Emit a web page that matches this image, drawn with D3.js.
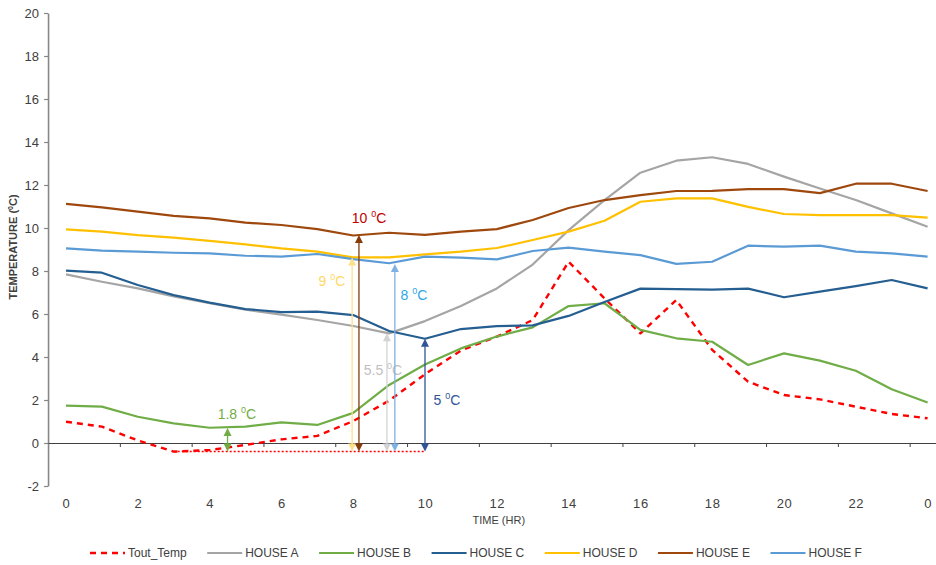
<!DOCTYPE html>
<html>
<head>
<meta charset="utf-8">
<script src="https://cdn.jsdelivr.net/npm/d3@7"></script>
<style>
  body { margin: 0; background: #fff; }
  svg { display: block; font-family: "Liberation Sans", Arial, sans-serif; }
</style>
</head>
<body>
<svg id="chart" width="936" height="565"></svg>
<script>
// ---- data -------------------------------------------------------------
const hours = [0, 1, 2, 3, 4, 5, 6, 7, 8, 9, 10, 11, 12, 13, 14, 15, 16, 17, 18, 19, 20, 21, 22, 23, 24];
const hourTicks = [0, 2, 4, 6, 8, 10, 12, 14, 16, 18, 20, 22, 24];
const tempTicks = [-2, 0, 2, 4, 6, 8, 10, 12, 14, 16, 18, 20];

const seriesNames = ["Tout_Temp", "HOUSE A", "HOUSE B", "HOUSE C", "HOUSE D", "HOUSE E", "HOUSE F"];
const toutTemp = [0.99, 0.76, 0.12, -0.40, -0.33, -0.09, 0.17, 0.33, 1.02, 1.97, 3.20, 4.30, 4.95, 5.72, 8.43, 6.73, 5.10, 6.65, 4.33, 2.85, 2.23, 2.03, 1.69, 1.35, 1.15];
const houseA = [7.84, 7.50, 7.19, 6.82, 6.50, 6.20, 5.97, 5.72, 5.44, 5.10, 5.67, 6.37, 7.19, 8.30, 9.90, 11.30, 12.57, 13.13, 13.29, 12.98, 12.39, 11.84, 11.30, 10.68, 10.06];
const houseB = [1.74, 1.69, 1.22, 0.91, 0.71, 0.76, 0.96, 0.84, 1.40, 2.70, 3.65, 4.40, 4.95, 5.38, 6.37, 6.50, 5.26, 4.87, 4.71, 3.63, 4.17, 3.83, 3.36, 2.50, 1.88];
const houseC = [8.02, 7.92, 7.35, 6.88, 6.53, 6.23, 6.09, 6.11, 5.95, 5.21, 4.85, 5.30, 5.44, 5.47, 5.91, 6.56, 7.18, 7.16, 7.13, 7.18, 6.78, 7.04, 7.30, 7.58, 7.19];
const houseD = [9.94, 9.83, 9.67, 9.55, 9.40, 9.24, 9.05, 8.90, 8.63, 8.63, 8.77, 8.90, 9.07, 9.44, 9.83, 10.34, 11.22, 11.38, 11.38, 10.98, 10.65, 10.60, 10.60, 10.60, 10.48];
const houseE = [11.12, 10.96, 10.76, 10.56, 10.45, 10.25, 10.14, 9.95, 9.65, 9.78, 9.68, 9.83, 9.95, 10.37, 10.93, 11.30, 11.53, 11.72, 11.73, 11.81, 11.81, 11.62, 12.06, 12.06, 11.72];
const houseF = [9.05, 8.95, 8.90, 8.85, 8.82, 8.71, 8.67, 8.79, 8.55, 8.36, 8.67, 8.62, 8.54, 8.93, 9.09, 8.90, 8.74, 8.33, 8.43, 9.18, 9.13, 9.18, 8.90, 8.82, 8.67];

// outdoor minimum and the indoor-outdoor gaps measured from it
const minOutdoor = -0.4;
const minOutdoorSpan = [3, 10];
const gapLabels = ["1.8", "9", "10", "5.5", "8", "5"];
const gapHours = [4.5, 7.97, 8.16, 8.94, 9.16, 10.0];
const gapTops = [0.70, 8.63, 9.68, 5.10, 8.33, 4.85];
const gapLabelHours = [4.76, 7.41, 8.44, 8.83, 9.69, 10.61];
const gapLabelTemps = [1.35, 7.53, 10.47, 3.40, 6.88, 2.00];

// ---- styles -----------------------------------------------------------
const lineColors = ["#FF0000", "#A5A5A5", "#70AD47", "#255E91", "#FFC000", "#9E480E", "#5B9BD5"];
const arrowColors = ["#70AD47", "#FFE08A", "#843C0C", "#D3D3D3", "#7FB2E2", "#2F5597"];
const gapTextColors = ["#70AD47", "#FFD966", "#C00000", "#BFBFBF", "#2EA6E6", "#2F5597"];

const seriesValues = [toutTemp, houseA, houseB, houseC, houseD, houseE, houseF];

// ---- scales -----------------------------------------------------------
const svg = d3.select("#chart");
const x = d3.scaleLinear().domain([0, 24]).range([66, 927.6]);
const y = d3.scaleLinear().domain([-2, 20]).range([486, 13]);
const xFrame = x.copy().domain([-0.5, 24.5]).range([x(-0.5), x(24.5)]);
const axisText = "#404040";

// y axis on the left
const yAxis = svg.append("g")
  .attr("transform", `translate(${x(-0.5)},0)`)
  .call(d3.axisLeft(y).tickValues(tempTicks).tickFormat(d => String(d))
    .tickSize(4).tickSizeOuter(0).tickPadding(5));
yAxis.select(".domain").attr("stroke", "#868686").attr("stroke-width", 1.6);
yAxis.selectAll(".tick line").attr("stroke", "#868686").attr("stroke-width", 1.2);
yAxis.selectAll("text").attr("fill", axisText).attr("font-size", 13)
  .attr("font-family", "Liberation Sans, Arial, sans-serif");

// x axis line at 0 °C with tick marks between categories
const tickMarks = d3.range(1.5, 24, 2);
const zeroAxis = svg.append("g")
  .attr("transform", `translate(0,${y(0)})`)
  .call(d3.axisBottom(xFrame).tickValues(tickMarks).tickFormat("").tickSize(4).tickSizeOuter(0));
zeroAxis.select(".domain").attr("stroke", "#404040").attr("stroke-width", 1);
zeroAxis.selectAll(".tick line").attr("stroke", "#404040");

// hour labels below the plot
const hourAxis = svg.append("g")
  .attr("transform", `translate(0,${y(-2) + 10})`)
  .call(d3.axisBottom(x).tickValues(hourTicks).tickFormat(d => d % 24).tickSize(0));
hourAxis.select(".domain").remove();
hourAxis.selectAll("text").attr("fill", axisText).attr("font-size", 13)
  .attr("letter-spacing", 0.6)
  .attr("font-family", "Liberation Sans, Arial, sans-serif");

// axis titles
svg.append("text")
  .attr("x", x(12) + 2).attr("y", 524)
  .attr("text-anchor", "middle").attr("font-size", 11).attr("fill", axisText)
  .text("TIME (HR)");

const yTitle = svg.append("text")
  .attr("transform", `translate(17,${247}) rotate(-90)`)
  .attr("text-anchor", "middle").attr("font-size", 11).attr("font-weight", "bold")
  .attr("fill", axisText);
yTitle.append("tspan").text("TEMPERATURE (");
yTitle.append("tspan").attr("font-size", 7).attr("dy", -4).text("0");
yTitle.append("tspan").attr("dy", 4).text("C)");

// ---- series -----------------------------------------------------------
const line = d3.line().x((d, i) => x(hours[i])).y(d => y(d));
svg.append("g").selectAll("path")
  .data(seriesValues)
  .join("path")
  .attr("d", d => line(d))
  .attr("fill", "none")
  .attr("stroke", (d, i) => lineColors[i])
  .attr("stroke-width", (d, i) => i === 0 ? 2.4 : 2.2)
  .attr("stroke-dasharray", (d, i) => i === 0 ? "6,5" : null)
  .attr("stroke-linejoin", "round");

// ---- annotations ------------------------------------------------------
const ann = svg.append("g");
ann.append("line")
  .attr("x1", x(minOutdoorSpan[0])).attr("x2", x(minOutdoorSpan[1]))
  .attr("y1", y(minOutdoor)).attr("y2", y(minOutdoor))
  .attr("stroke", "#FF0000").attr("stroke-width", 1.5).attr("stroke-dasharray", "2,2");

function head(px, py, dir) {
  // dir = -1 points up, +1 points down; tip at (px, py)
  const p = d3.path();
  p.moveTo(px, py);
  p.lineTo(px - 4, py - dir * 8);
  p.lineTo(px + 4, py - dir * 8);
  p.closePath();
  return p.toString();
}

gapHours.forEach((h, i) => {
  const px = x(h), top = y(gapTops[i]), bot = y(minOutdoor);
  ann.append("line")
    .attr("x1", px).attr("x2", px).attr("y1", top + 6).attr("y2", bot - 6)
    .attr("stroke", arrowColors[i]).attr("stroke-width", 1.3);
  ann.append("path").attr("d", head(px, top, -1)).attr("fill", arrowColors[i]);
  ann.append("path").attr("d", head(px, bot, 1)).attr("fill", arrowColors[i]);

  const t = ann.append("text")
    .attr("x", x(gapLabelHours[i])).attr("y", y(gapLabelTemps[i]) + 5)
    .attr("text-anchor", "middle").attr("font-size", 14).attr("fill", gapTextColors[i]);
  t.append("tspan").text(gapLabels[i] + " ");
  t.append("tspan").attr("font-size", 9).attr("dy", -6).text("0");
  t.append("tspan").attr("dy", 6).text("C");
});

// ---- legend -----------------------------------------------------------
const legend = svg.append("g").attr("transform", "translate(90,553)");
let lx = 0;
seriesNames.forEach((name, i) => {
  const g = legend.append("g").attr("transform", `translate(${lx},0)`);
  g.append("line").attr("x1", 0).attr("x2", 35).attr("y1", 0).attr("y2", 0)
    .attr("stroke", lineColors[i]).attr("stroke-width", i === 0 ? 2.4 : 2.2)
    .attr("stroke-dasharray", i === 0 ? "6,5" : null);
  const txt = g.append("text").attr("x", 38).attr("y", 4)
    .attr("font-size", 12).attr("fill", axisText).text(name);
  lx += 38 + txt.node().getComputedTextLength() + 20.5;
});
</script>
</body>
</html>
